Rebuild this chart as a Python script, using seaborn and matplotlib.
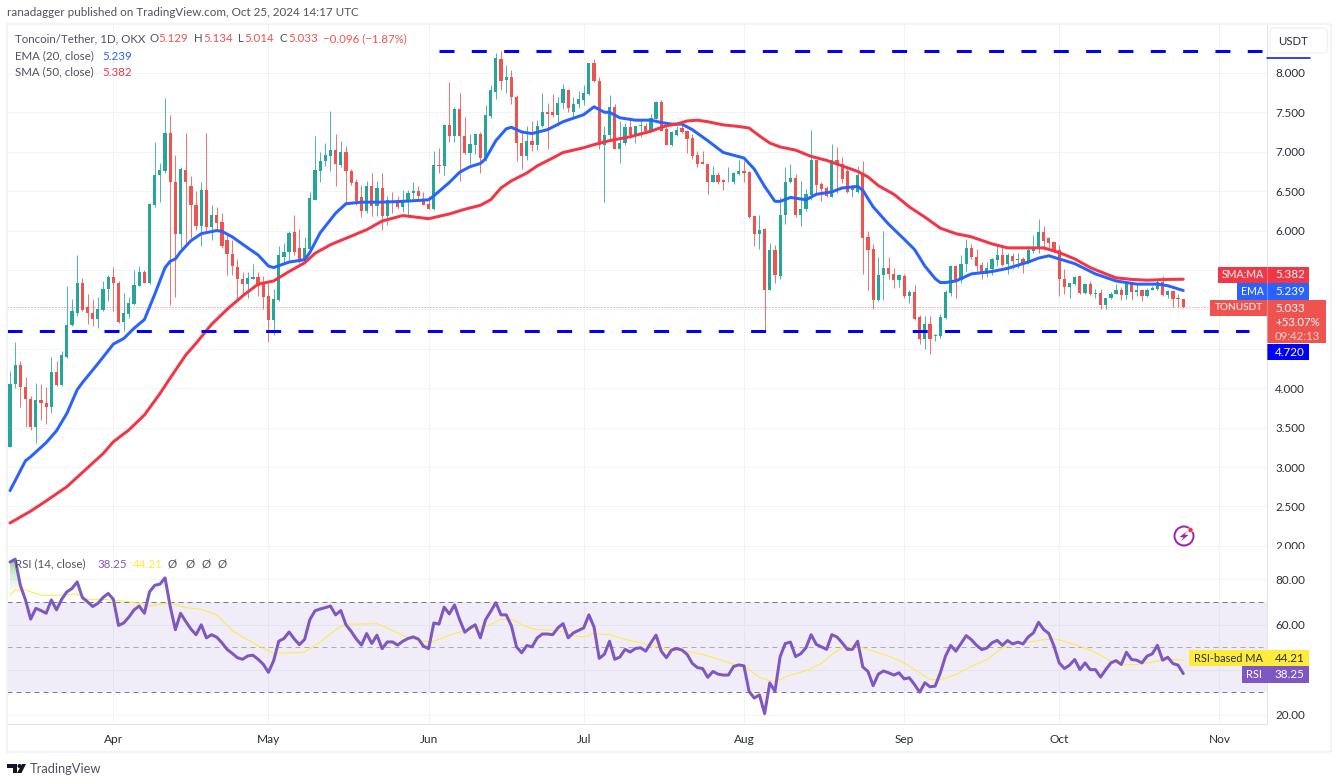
import matplotlib
matplotlib.use("Agg")
import matplotlib.pyplot as plt
import matplotlib.patches as mpatches
from matplotlib.path import Path
import seaborn as sns
import numpy as np

# candles, one per day from 12 Mar 2024 to 25 Oct 2024
opens = [3.26, 4.05, 4.30, 4.02, 3.86, 3.51, 3.85, 3.81, 3.76, 4.21,
         4.04, 4.40, 4.80, 4.96, 5.33, 5.03, 4.96, 4.88, 4.99, 5.26,
         5.41, 5.34, 4.84, 4.94, 5.07, 5.30, 5.47, 5.33, 6.33, 6.71,
         6.76, 7.24, 6.61, 5.95, 6.77, 6.56, 6.33, 6.06, 6.51, 6.05,
         6.20, 6.11, 5.88, 5.70, 5.54, 5.39, 5.32, 5.39, 5.41, 5.32,
         5.17, 4.87, 5.12, 5.67, 5.73, 5.98, 5.78, 5.61, 5.76, 6.39,
         6.76, 6.88, 6.95, 7.02, 6.83, 7.00, 6.76, 6.61, 6.43, 6.25,
         6.57, 6.31, 6.54, 6.19, 6.38, 6.37, 6.30, 6.38, 6.47, 6.50,
         6.40, 6.34, 6.27, 6.83, 6.82, 7.34, 7.20, 7.54, 7.20, 6.98,
         7.09, 7.23, 6.92, 7.45, 7.76, 8.17, 7.91, 7.95, 7.70, 7.11,
         6.95, 7.14, 7.09, 7.33, 7.50, 7.50, 7.47, 7.62, 7.78, 7.50,
         7.60, 7.66, 7.73, 8.13, 7.90, 7.09, 7.21, 7.57, 7.04, 7.11,
         7.31, 7.21, 7.33, 7.33, 7.26, 7.42, 7.63, 7.29, 7.08, 7.21,
         7.30, 7.26, 7.18, 6.96, 6.87, 6.85, 6.62, 6.71, 6.64, 6.61,
         6.62, 6.72, 6.75, 6.74, 6.18, 5.96, 6.02, 5.25, 5.75, 5.42,
         6.20, 6.61, 6.67, 6.20, 6.27, 6.45, 6.89, 6.59, 6.54, 6.42,
         6.89, 6.84, 6.75, 6.52, 6.49, 6.70, 5.92, 5.77, 5.12, 5.44,
         5.53, 5.45, 5.37, 5.42, 5.17, 5.22, 4.90, 4.62, 4.81, 4.66,
         4.66, 4.89, 5.21, 5.55, 5.37, 5.58, 5.78, 5.67, 5.56, 5.45,
         5.51, 5.63, 5.69, 5.57, 5.68, 5.62, 5.64, 5.60, 5.74, 5.78,
         5.98, 5.90, 5.85, 5.75, 5.39, 5.28, 5.32, 5.42, 5.21, 5.32,
         5.20, 5.21, 5.06, 5.14, 5.20, 5.25, 5.18, 5.33, 5.22, 5.24,
         5.17, 5.25, 5.26, 5.35, 5.18, 5.23, 5.14, 5.129]
highs = [4.22, 4.59, 4.35, 4.14, 3.90, 4.06, 4.05, 4.01, 4.39, 4.35,
         4.47, 5.30, 5.13, 5.69, 5.40, 5.20, 5.13, 5.16, 5.36, 5.44,
         5.54, 5.36, 5.21, 5.16, 5.50, 5.55, 5.50, 6.35, 7.12, 6.86,
         7.68, 7.47, 6.96, 6.80, 7.24, 6.69, 6.50, 6.61, 7.24, 6.32,
         6.30, 6.22, 5.95, 5.88, 5.64, 5.47, 5.47, 5.58, 5.47, 5.42,
         5.34, 5.26, 5.81, 5.84, 5.99, 6.20, 6.02, 5.92, 6.49, 7.20,
         6.99, 7.11, 7.51, 7.23, 7.14, 7.07, 6.78, 6.65, 6.58, 6.63,
         6.73, 6.63, 6.73, 6.44, 6.49, 6.44, 6.51, 6.52, 6.61, 6.56,
         6.49, 6.44, 7.01, 7.05, 7.35, 7.88, 7.57, 7.75, 7.44, 7.22,
         7.24, 7.25, 7.59, 7.85, 8.25, 8.28, 8.10, 8.04, 7.72, 7.24,
         7.33, 7.39, 7.40, 7.75, 7.62, 7.73, 7.69, 7.86, 7.79, 7.69,
         7.77, 7.84, 8.13, 8.18, 7.95, 7.32, 7.72, 7.60, 7.39, 7.36,
         7.44, 7.33, 7.40, 7.37, 7.48, 7.64, 7.66, 7.32, 7.26, 7.33,
         7.37, 7.28, 7.22, 7.01, 7.01, 6.86, 6.82, 6.74, 6.65, 6.81,
         6.74, 6.89, 6.88, 6.75, 6.19, 6.20, 6.03, 5.84, 5.82, 6.42,
         6.81, 6.84, 6.72, 6.63, 6.53, 7.27, 6.90, 6.61, 6.56, 7.10,
         7.06, 6.93, 6.80, 6.58, 6.82, 6.88, 5.99, 5.83, 5.66, 6.00,
         5.66, 5.53, 5.45, 5.45, 5.25, 5.31, 4.93, 4.92, 4.91, 4.69,
         4.94, 5.24, 5.56, 5.56, 5.69, 5.89, 5.83, 5.77, 5.60, 5.60,
         5.65, 5.82, 5.79, 5.72, 5.72, 5.72, 5.66, 5.81, 5.94, 6.14,
         6.06, 5.92, 5.87, 5.82, 5.51, 5.34, 5.42, 5.42, 5.34, 5.36,
         5.26, 5.26, 5.15, 5.22, 5.32, 5.28, 5.35, 5.35, 5.32, 5.25,
         5.27, 5.29, 5.39, 5.42, 5.24, 5.24, 5.20, 5.134]
lows = [3.25, 4.00, 3.76, 3.51, 3.47, 3.30, 3.60, 3.54, 3.69, 4.03,
        4.03, 4.38, 4.79, 4.92, 4.98, 4.81, 4.79, 4.76, 4.98, 5.10,
        4.98, 4.83, 4.72, 4.89, 5.05, 5.30, 5.33, 5.32, 6.30, 6.36,
        6.73, 5.06, 5.16, 5.78, 5.82, 5.90, 6.01, 5.81, 5.97, 5.88,
        5.99, 5.78, 5.43, 5.43, 5.13, 5.17, 5.15, 5.38, 5.17, 5.01,
        4.59, 4.68, 5.10, 5.59, 5.63, 5.69, 5.59, 5.59, 5.73, 6.39,
        6.61, 6.82, 6.76, 6.57, 6.81, 6.34, 6.58, 6.33, 6.17, 6.22,
        6.18, 6.18, 6.01, 6.07, 6.22, 6.27, 6.23, 6.20, 6.39, 6.39,
        6.32, 6.27, 6.26, 6.73, 6.71, 7.12, 7.12, 6.63, 6.97, 6.84,
        6.97, 6.73, 6.88, 7.43, 7.67, 7.78, 7.75, 7.61, 6.88, 6.78,
        6.90, 7.01, 7.02, 7.31, 7.03, 7.44, 7.33, 7.54, 7.50, 7.43,
        7.56, 7.59, 7.72, 7.88, 7.04, 6.36, 7.16, 7.03, 6.86, 7.09,
        7.18, 7.11, 7.19, 7.25, 7.25, 7.41, 7.26, 7.08, 7.07, 7.20,
        7.24, 6.98, 6.91, 6.80, 6.84, 6.46, 6.61, 6.59, 6.51, 6.61,
        6.59, 6.71, 6.62, 6.16, 5.81, 5.76, 4.72, 5.25, 5.33, 5.39,
        6.08, 6.60, 6.17, 6.06, 6.25, 6.39, 6.46, 6.38, 6.42, 6.42,
        6.48, 6.60, 6.48, 6.43, 6.48, 5.45, 5.24, 5.00, 5.11, 5.12,
        5.38, 5.27, 5.28, 5.15, 5.08, 4.86, 4.56, 4.50, 4.44, 4.60,
        4.64, 4.88, 5.17, 5.15, 5.33, 5.49, 5.64, 5.49, 5.39, 5.41,
        5.43, 5.55, 5.55, 5.45, 5.51, 5.53, 5.46, 5.58, 5.72, 5.72,
        5.75, 5.75, 5.72, 5.17, 5.19, 5.15, 5.31, 5.20, 5.20, 5.18,
        5.14, 5.00, 5.00, 5.13, 5.19, 5.12, 5.13, 5.12, 5.17, 5.11,
        5.16, 5.24, 5.24, 5.17, 5.14, 5.03, 5.03, 5.014]
closes = [4.05, 4.30, 4.02, 3.86, 3.51, 3.85, 3.81, 3.76, 4.21, 4.04,
          4.42, 4.80, 4.98, 5.33, 4.99, 4.96, 4.88, 5.01, 5.26, 5.41,
          5.33, 4.84, 4.95, 5.08, 5.31, 5.48, 5.34, 6.34, 6.71, 6.77,
          7.24, 6.61, 5.95, 6.78, 6.61, 6.32, 6.06, 6.51, 6.05, 6.20,
          6.10, 5.80, 5.70, 5.55, 5.38, 5.32, 5.40, 5.41, 5.30, 5.16,
          4.87, 5.13, 5.69, 5.73, 5.97, 5.73, 5.63, 5.78, 6.41, 6.77,
          6.88, 6.96, 7.02, 6.84, 7.00, 6.76, 6.60, 6.37, 6.25, 6.57,
          6.31, 6.54, 6.19, 6.39, 6.35, 6.30, 6.38, 6.47, 6.50, 6.44,
          6.33, 6.27, 6.83, 6.82, 7.34, 7.20, 7.54, 7.20, 6.98, 7.10,
          7.23, 6.92, 7.46, 7.78, 8.19, 7.90, 7.95, 7.70, 7.11, 6.95,
          7.14, 7.09, 7.33, 7.50, 7.48, 7.46, 7.62, 7.79, 7.55, 7.61,
          7.67, 7.74, 8.12, 7.90, 7.09, 7.21, 7.57, 7.04, 7.11, 7.31,
          7.21, 7.33, 7.34, 7.26, 7.43, 7.63, 7.26, 7.08, 7.25, 7.28,
          7.25, 7.16, 6.95, 6.85, 6.84, 6.61, 6.71, 6.62, 6.62, 6.62,
          6.73, 6.75, 6.73, 6.17, 5.96, 6.01, 5.25, 5.75, 5.43, 6.20,
          6.61, 6.67, 6.20, 6.27, 6.46, 6.89, 6.58, 6.53, 6.44, 6.89,
          6.84, 6.66, 6.49, 6.54, 6.70, 5.91, 5.75, 5.12, 5.44, 5.53,
          5.45, 5.37, 5.43, 5.17, 5.22, 4.88, 4.62, 4.81, 4.63, 4.68,
          4.90, 5.22, 5.55, 5.37, 5.58, 5.78, 5.66, 5.55, 5.45, 5.52,
          5.64, 5.69, 5.56, 5.69, 5.61, 5.64, 5.59, 5.75, 5.79, 5.98,
          5.87, 5.84, 5.75, 5.38, 5.28, 5.33, 5.41, 5.21, 5.32, 5.19,
          5.21, 5.06, 5.14, 5.20, 5.25, 5.18, 5.33, 5.22, 5.24, 5.17,
          5.25, 5.27, 5.35, 5.18, 5.23, 5.13, 5.13, 5.033]

# moving averages at these day numbers
ema_days = [0, 3, 4, 7, 9, 11, 13, 14, 17, 20, 22, 24, 26, 28, 30, 31, 32, 33, 35, 37,
            40, 41, 43, 46, 48, 50, 51, 54, 56, 57, 58, 60, 63, 65, 68, 72, 76, 81, 82, 85,
            87, 89, 91, 92, 94, 96, 97, 99, 101, 104, 107, 111, 113, 115, 116, 118, 121, 124, 126, 128,
            130, 132, 135, 138, 142, 144, 146, 148, 149, 151, 154, 156, 159, 161, 164, 165, 167, 170, 173, 175,
            177, 179, 180, 181, 183, 186, 190, 193, 197, 199, 201, 203, 206, 210, 214, 218, 222, 224, 227]
ema_values = [2.70, 3.08, 3.13, 3.31, 3.46, 3.68, 3.98, 4.07, 4.31, 4.56, 4.63, 4.76, 4.87, 5.19, 5.53, 5.61, 5.64, 5.73, 5.87, 5.96,
              6.00, 5.99, 5.92, 5.78, 5.69, 5.55, 5.53, 5.60, 5.62, 5.63, 5.72, 5.97, 6.22, 6.34, 6.36, 6.36, 6.37, 6.39, 6.44, 6.61,
              6.74, 6.81, 6.85, 6.91, 7.14, 7.29, 7.31, 7.25, 7.23, 7.28, 7.38, 7.47, 7.57, 7.50, 7.50, 7.43, 7.40, 7.40, 7.37, 7.35,
              7.35, 7.28, 7.14, 6.99, 6.92, 6.78, 6.56, 6.37, 6.37, 6.42, 6.39, 6.46, 6.49, 6.54, 6.56, 6.51, 6.30, 6.08, 5.89, 5.76,
              5.55, 5.39, 5.34, 5.34, 5.36, 5.45, 5.48, 5.52, 5.60, 5.65, 5.68, 5.64, 5.58, 5.45, 5.36, 5.32, 5.32, 5.30, 5.239]
sma_days = [0, 4, 7, 11, 14, 18, 20, 23, 26, 29, 31, 34, 36, 39, 42, 45, 48, 51, 54, 57,
            59, 62, 69, 72, 76, 81, 85, 88, 91, 93, 95, 97, 100, 102, 105, 107, 111, 113, 116, 120,
            124, 127, 129, 131, 133, 135, 138, 141, 143, 145, 147, 149, 152, 155, 158, 161, 164, 166, 168, 171,
            174, 177, 180, 183, 186, 190, 193, 197, 200, 203, 206, 209, 212, 214, 217, 220, 224, 227]
sma_values = [2.29, 2.44, 2.57, 2.75, 2.93, 3.17, 3.32, 3.47, 3.66, 3.93, 4.13, 4.42, 4.57, 4.81, 5.00, 5.17, 5.32, 5.36, 5.48, 5.59,
              5.71, 5.82, 6.01, 6.12, 6.19, 6.15, 6.21, 6.27, 6.32, 6.39, 6.54, 6.63, 6.73, 6.82, 6.92, 6.99, 7.05, 7.09, 7.14, 7.19,
              7.26, 7.33, 7.35, 7.39, 7.40, 7.38, 7.34, 7.32, 7.30, 7.20, 7.11, 7.06, 7.02, 6.94, 6.89, 6.82, 6.75, 6.68, 6.57, 6.46,
              6.30, 6.17, 6.03, 5.96, 5.92, 5.83, 5.78, 5.78, 5.78, 5.72, 5.64, 5.53, 5.45, 5.40, 5.38, 5.37, 5.38, 5.382]

# RSI (14), one per day
rsi_values = [87.7, 89.0, 77.4, 70.9, 62.4, 67.2, 66.2, 65.0, 70.9, 66.5,
              71.2, 74.5, 76.0, 78.9, 72.0, 70.1, 68.0, 69.4, 72.0, 73.8,
              71.2, 59.6, 60.7, 63.3, 66.5, 68.2, 65.0, 74.5, 77.4, 77.9,
              80.7, 68.0, 57.7, 65.0, 61.4, 58.0, 55.5, 59.9, 54.1, 55.5,
              54.4, 51.9, 49.0, 47.2, 45.3, 44.6, 46.1, 46.4, 44.6, 42.4,
              38.8, 43.9, 52.6, 53.8, 56.7, 53.6, 51.1, 53.4, 62.1, 66.1,
              66.9, 67.5, 68.2, 64.3, 66.2, 59.9, 57.0, 53.6, 50.9, 56.0,
              51.6, 55.3, 49.3, 52.3, 52.3, 50.9, 52.6, 53.8, 54.5, 53.6,
              50.4, 49.3, 60.7, 60.2, 67.7, 64.7, 68.7, 62.1, 56.6, 58.5,
              59.9, 54.1, 62.1, 65.8, 69.7, 64.3, 64.3, 59.5, 50.1, 47.5,
              50.7, 50.1, 54.1, 55.8, 55.8, 55.5, 58.5, 60.4, 54.1, 56.3,
              57.4, 58.5, 64.3, 58.9, 45.0, 46.8, 52.6, 44.6, 45.6, 49.0,
              47.8, 49.4, 49.7, 48.2, 51.9, 55.3, 48.2, 45.3, 48.7, 49.4,
              48.7, 46.8, 42.8, 40.9, 40.5, 36.6, 39.2, 38.0, 37.6, 37.6,
              41.4, 42.1, 41.7, 30.3, 27.4, 28.8, 20.5, 34.1, 30.4, 45.8,
              51.6, 52.2, 45.8, 47.1, 49.7, 55.5, 51.2, 50.1, 49.0, 55.5,
              54.5, 51.9, 49.0, 49.0, 52.6, 41.2, 39.2, 32.9, 38.0, 39.4,
              38.6, 37.6, 38.6, 35.9, 36.4, 33.4, 30.0, 34.2, 32.4, 32.7,
              38.6, 46.0, 50.7, 48.2, 51.6, 55.1, 53.3, 50.8, 48.9, 49.6,
              51.9, 53.0, 50.8, 52.9, 51.4, 52.2, 51.4, 54.5, 56.3, 61.0,
              57.8, 56.0, 50.4, 43.0, 40.5, 42.0, 44.5, 40.0, 43.0, 40.0,
              40.0, 36.7, 40.0, 43.0, 44.0, 42.3, 47.7, 44.5, 44.2, 43.0,
              46.0, 47.0, 50.8, 44.2, 45.5, 42.7, 42.0, 38.25]
rsi_ma_days = [0, 1, 3, 6, 9, 13, 15, 18, 21, 24, 27, 31, 34, 37, 40, 43, 45, 48, 51, 55,
               57, 60, 63, 65, 68, 71, 74, 77, 80, 82, 85, 88, 91, 93, 95, 97, 100, 102, 106, 109,
               111, 113, 116, 119, 122, 125, 127, 131, 135, 138, 140, 142, 145, 147, 148, 151, 154, 157, 159, 161,
               163, 165, 168, 170, 173, 176, 178, 180, 183, 186, 189, 192, 194, 197, 200, 202, 204, 207, 210, 213,
               215, 218, 220, 223, 225, 227]
rsi_ma_values = [73.0, 75.3, 75.3, 73.0, 73.0, 73.5, 71.2, 71.2, 70.6, 69.9, 68.2, 69.7, 67.5, 66.8, 64.3, 57.4, 54.5, 50.7, 47.2, 47.5,
                 47.8, 52.2, 57.7, 60.2, 60.2, 60.4, 57.4, 54.1, 52.6, 52.6, 55.3, 57.4, 58.8, 59.9, 62.4, 62.4, 58.9, 57.7, 57.4, 55.1,
                 54.5, 56.0, 55.5, 53.4, 51.9, 50.4, 48.7, 48.2, 46.1, 43.9, 42.4, 41.7, 36.6, 35.1, 34.7, 37.6, 39.5, 42.8, 46.8, 49.7,
                 50.7, 49.7, 47.5, 46.0, 43.0, 38.6, 35.6, 35.6, 37.8, 41.5, 44.5, 49.6, 51.4, 52.2, 53.3, 53.6, 52.6, 50.4, 47.7, 43.7,
                 42.0, 42.3, 43.0, 44.2, 44.5, 44.21]

# levels drawn by the author and axis ticks
resistance = 8.28
support = 4.72
last_price = 5.033
price_ticks = [2.0, 2.5, 3.0, 3.5, 4.0, 4.5, 5.0, 5.5, 6.0, 6.5, 7.0, 7.5, 8.0]
price_hidden = [4.5, 5.0, 5.5]  # covered by the price tags
rsi_ticks = [20, 40, 60, 80]
rsi_hidden = [40]  # covered by the RSI tags
month_days = [20, 50, 81, 111, 142, 173, 203, 234]
month_labels = ["Apr", "May", "Jun", "Jul", "Aug", "Sep", "Oct", "Nov"]

UP = "#26a69a"
DOWN = "#ef5350"
BLUE = "#2962ff"
RED = "#f23645"
PURPLE = "#7e57c2"
YELLOW = "#ffeb3b"
GRID = "#f0f3fa"
BORDER = "#e0e3eb"
TEXT = "#2a2e39"
SOFT = "#50535e"

W, H = 1338, 783
PX = 72 / 100  # one pixel in points

sns.set_theme(style="white")
plt.rcParams["font.family"] = ["Lato", "DejaVu Sans"]
plt.rcParams["lines.scale_dashes"] = False

fig = plt.figure(figsize=(W / 100, H / 100), dpi=100, facecolor="white")


def pane(left, top, right, bottom):
    # axes placed by pixel box
    return fig.add_axes([left / W, 1 - bottom / H, (right - left) / W, (bottom - top) / H])


ax = pane(7, 24, 1267, 549)
ax_rsi = pane(7, 549, 1267, 724)
days = np.arange(len(closes))

# price pane
colors = [UP if c >= o else DOWN for o, c in zip(opens, closes)]
ax.vlines(days, lows, highs, colors=colors, linewidth=PX, alpha=0.8, zorder=3)
ax.bar(days, np.abs(np.array(closes) - np.array(opens)), bottom=np.minimum(opens, closes),
       width=0.62, color=colors, linewidth=0, zorder=3)
sns.lineplot(x=ema_days, y=ema_values, ax=ax, color=BLUE, linewidth=3 * PX, zorder=4)
sns.lineplot(x=sma_days, y=sma_values, ax=ax, color=RED, linewidth=3 * PX, zorder=4)
ax.axhline(last_price, color=DOWN, linewidth=PX, dashes=(PX, 2 * PX), alpha=0.8, zorder=2)
on, off = 15 * PX, 17.33 * PX
ax.plot([83, 242.3], [resistance, resistance], color="#0000ff", linewidth=3 * PX, dashes=(on, off), zorder=5)
ax.plot([-0.58, 239.7], [support, support], color="#0000ff", linewidth=3 * PX, dashes=(on, off), zorder=5)
ax.set_xlim(-0.58, 243.2)
ax.set_ylim(1.96, 8.62)
ax.set_xticks(month_days)
ax.set_xticklabels([])
ax.set_yticks(price_ticks)
ax.set_yticklabels(["" if t in price_hidden else f"{t:.3f}" for t in price_ticks])
ax.yaxis.tick_right()
ax.tick_params(axis="both", length=0, labelsize=8.4, labelcolor=TEXT, pad=6)
ax.grid(True, color=GRID, linewidth=PX)
ax.set_axisbelow(True)
ax.set_xlabel("")
ax.set_ylabel("")

# 2.000 is cut off by the pane below
clip = matplotlib.transforms.Bbox([[1267, H - 549], [1331, H - 24]])
for lbl in ax.get_yticklabels():
    lbl.set_clip_box(clip)
    lbl.set_clip_on(True)

# RSI pane
ax_rsi.axhspan(30, 70, color=PURPLE, alpha=0.1, linewidth=0, zorder=1)
for level, col in [(70, "#787b86"), (50, "#a8abb4"), (30, "#787b86")]:
    ax_rsi.axhline(level, color=col, linewidth=PX, dashes=(5 * PX, 4 * PX), zorder=2)
rsi = np.array(rsi_values)
grad = np.linspace(0, 1, 64).reshape(-1, 1)
over = ax_rsi.fill_between(days, 70, rsi, where=rsi >= 70, interpolate=True, color="none", linewidth=0)
img = ax_rsi.imshow(grad, extent=[-0.58, 227, 70, 90], origin="lower", aspect="auto", zorder=2,
                    cmap=matplotlib.colors.LinearSegmentedColormap.from_list("g", ["#ffffff00", "#66bb6ad0"]))
img.set_clip_path(Path.make_compound_path(*over.get_paths()), transform=ax_rsi.transData)
ax_rsi.fill_between(days, 30, rsi, where=rsi <= 30, interpolate=True, color=DOWN, alpha=0.12, linewidth=0)
sns.lineplot(x=rsi_ma_days, y=rsi_ma_values, ax=ax_rsi, color=YELLOW, linewidth=PX, zorder=4)
sns.lineplot(x=days, y=rsi_values, ax=ax_rsi, color=PURPLE, linewidth=3 * PX, zorder=5)
ax_rsi.set_xlim(-0.58, 243.2)
ax_rsi.set_ylim(15.9, 93.5)
ax_rsi.set_xticks(month_days)
ax_rsi.set_xticklabels(month_labels)
ax_rsi.set_yticks(rsi_ticks)
ax_rsi.set_yticklabels(["" if t in rsi_hidden else f"{t:.2f}" for t in rsi_ticks])
ax_rsi.yaxis.tick_right()
ax_rsi.tick_params(axis="y", length=0, labelsize=8.4, labelcolor=TEXT, pad=6)
ax_rsi.tick_params(axis="x", length=0, labelsize=8.6, labelcolor=TEXT, pad=7)
ax_rsi.grid(True, color=GRID, linewidth=PX)
ax_rsi.set_axisbelow(True)
ax_rsi.set_xlabel("")
ax_rsi.set_ylabel("")

for a in (ax, ax_rsi):
    for spine in a.spines.values():
        spine.set_color(BORDER)
        spine.set_linewidth(PX)
    a.spines["left"].set_visible(False)
    a.spines["top"].set_visible(False)

# overlay in pixel coordinates for the TradingView chrome
ov = fig.add_axes([0, 0, 1, 1], zorder=10)
ov.set_xlim(0, W)
ov.set_ylim(H, 0)
ov.axis("off")
ov.patch.set_alpha(0)


def box(x0, y0, x1, y1, color):
    ov.add_patch(mpatches.Rectangle((x0, y0), x1 - x0, y1 - y0, facecolor=color, edgecolor="none"))


def txt(x, y, s, color=TEXT, size=8.4, ha="left", **kw):
    ov.text(x, y, s, color=color, fontsize=size, ha=ha, va="center", **kw)


# outer frame
ov.add_patch(mpatches.Rectangle((7, 24), 1324, 728, fill=False, edgecolor=GRID, linewidth=2 * PX))

# header and legend
txt(7, 12.5, "ranadagger published on TradingView.com, Oct 25, 2024 14:17 UTC", color=SOFT, size=8.4)
txt(15, 39, "Toncoin/Tether, 1D, OKX", color=SOFT, size=8.3)
for x, s in [(150, "O"), (194, "H"), (238, "L"), (280, "C")]:
    txt(x, 39, s, color=SOFT, size=8.3)
for x, s in [(158, "5.129"), (203, "5.134"), (244, "5.014"), (288, "5.033"), (323, "\u22120.096 (\u22121.87%)")]:
    txt(x, 39, s, color=DOWN, size=8.3)
txt(15, 56, "EMA (20, close)", color=SOFT, size=8.3)
txt(102, 56, "5.239", color=BLUE, size=8.3)
txt(15, 72, "SMA (50, close)", color=SOFT, size=8.3)
txt(102, 72, "5.382", color=RED, size=8.3)
txt(15, 564, "RSI (14, close)", color=SOFT, size=8.3)
txt(97, 564, "38.25", color=PURPLE, size=8.3)
txt(133, 564, "44.21", color=YELLOW, size=8.3)
for x in (168, 186, 202, 217):
    txt(x, 564, "\u00d8", color=SOFT, size=8.3)

# currency button and the tag of the upper level peeking out below it
ov.add_patch(mpatches.FancyBboxPatch((1270, 28), 57.5, 25, boxstyle="round,pad=0,rounding_size=4",
                                     facecolor="white", edgecolor=GRID, linewidth=1.5 * PX))
txt(1293, 41.5, "USDT", ha="center", size=8.2)
ov.plot([1267, 1309.5], [58.3, 58.3], color="#0000ff", linewidth=1.5 * PX)

# price tags
box(1218, 267, 1267, 283, RED)
box(1267, 267, 1309, 283, RED)
txt(1242.5, 275, "SMA:MA", color="white", ha="center", size=7.6)
txt(1275, 275, "5.382", color="white")
box(1237, 283, 1267, 300, BLUE)
box(1267, 283, 1309, 300, BLUE)
txt(1252, 291.5, "EMA", color="white", ha="center", size=7.6)
txt(1275, 291.5, "5.239", color="white")
box(1210, 300, 1267, 316, DOWN)
box(1267, 300, 1326, 343, DOWN)
txt(1238.5, 308, "TONUSDT", color="white", ha="center", size=7.2)
txt(1275, 308, "5.033", color="white")
txt(1275, 322, "+53.07%", color="white", size=8.2)
txt(1275, 336, "09:42:13", color="#fbd0ce", size=8.2)
box(1267, 344, 1309, 360, "#0000ff")
txt(1275, 352, "4.720", color="white")
ov.plot([1267, 1267], [267, 360], color="white", linewidth=PX * 0.8, alpha=0.4)

# RSI tags
box(1189, 650, 1309, 666, YELLOW)
txt(1228, 658, "RSI-based MA", ha="center", size=7.9)
txt(1275, 658, "44.21")
box(1242, 666, 1309, 683, PURPLE)
txt(1254, 674.5, "RSI", color="white", ha="center", size=7.9)
txt(1275, 674.5, "38.25", color="white")

# snapshot badge
ov.add_patch(mpatches.Circle((1184, 536), 9.5, fill=False, edgecolor="#9c27b0", linewidth=2 * PX))
ov.add_patch(mpatches.Polygon([(1188, 530.5), (1179.5, 537), (1183.5, 537.5), (1180.5, 541.5), (1188.5, 535), (1184.5, 534.5)],
                              facecolor="#9c27b0", edgecolor="none"))
ov.add_patch(mpatches.Circle((1190.5, 530), 2.5, facecolor=RED, edgecolor="white", linewidth=0.5 * PX))

# TradingView footer
ov.add_patch(mpatches.Polygon([(7, 764), (17, 764), (17, 773), (12.5, 773), (12.5, 768), (7, 768)],
                              facecolor="#131722", edgecolor="none"))
ov.add_patch(mpatches.Circle((19.5, 766), 2, facecolor="#131722", edgecolor="none"))
ov.add_patch(mpatches.Polygon([(22, 764), (26, 764), (21.5, 773), (17, 773)], facecolor="#131722", edgecolor="none"))
txt(30, 769, "TradingView", color=SOFT, size=9.3)

fig.savefig("out.png", dpi=100)
